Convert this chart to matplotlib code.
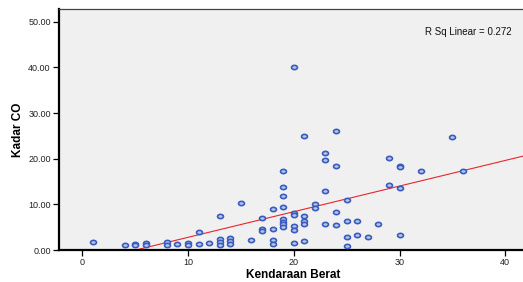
import numpy as np
import matplotlib
matplotlib.use("Agg")
import matplotlib.pyplot as plt
from matplotlib.path import Path

# Data
kendaraan_berat = [1, 4, 5, 5, 6, 6, 8, 8, 9, 10, 10, 11, 11, 12,
                   13, 13, 13, 13, 14, 14, 14, 15, 16,
                   17, 17, 17, 18, 18, 18, 18,
                   19, 19, 19, 19, 19, 19, 19, 19,
                   20, 20, 20, 20, 20, 20,
                   21, 21, 21, 21, 21, 22, 22,
                   23, 23, 23, 23, 24, 24, 24, 24,
                   25, 25, 25, 25, 26, 26, 27, 28,
                   29, 29, 30, 30, 30, 30, 32, 35, 36]
kadar_co = [1.7, 1.1, 1.3, 1.0, 1.5, 1.2, 1.7, 1.1, 1.3, 1.5, 1.2, 3.9, 1.3, 1.5,
            7.4, 2.5, 1.8, 1.1, 2.6, 2.0, 1.4, 10.4, 2.3,
            7.0, 4.7, 4.2, 8.9, 4.7, 2.2, 1.3,
            17.4, 13.7, 11.9, 9.4, 6.9, 6.2, 5.6, 5.0,
            40.2, 8.2, 7.6, 5.3, 4.3, 1.5,
            25.0, 7.5, 6.4, 5.7, 2.0, 10.1, 9.1,
            21.3, 19.8, 13.0, 5.8, 26.0, 18.4, 8.3, 5.4,
            10.9, 6.3, 2.9, 0.9, 6.4, 3.3, 2.9, 5.6,
            20.2, 14.2, 18.5, 18.2, 13.5, 3.3, 17.2, 24.7, 17.2]
r_sq_label = "R Sq Linear = 0.272"
x_ticks = [0, 10, 20, 30, 40]
y_ticks = [0, 10, 20, 30, 40, 50]

plt.rcParams['font.family'] = ['Liberation Sans', 'DejaVu Sans']

fig = plt.figure(figsize=(5.23, 2.82), dpi=100)
ax = fig.add_axes([59/523, 1 - 250/282, (526.4 - 59)/523, (250 - 9)/282])
ax.set_facecolor('#f0f0f0')

# elliptical marker
t = np.linspace(0, 2*np.pi, 40)
ell = Path(np.column_stack([np.cos(t), 0.72*np.sin(t)]), closed=True)

x = np.array(kendaraan_berat, float)
y = np.array(kadar_co, float)
ax.scatter(x, y, marker=ell, s=18, facecolor='#b4c8ea', edgecolor='#3a5bbd',
           linewidths=1.2, zorder=3, clip_on=False)

slope, intercept = np.polyfit(x, y, 1)
xl = np.array([-2.2, 42.0])
ax.plot(xl, slope*xl + intercept, color='#e8262b', lw=0.8, zorder=2)

ax.set_xlim(-2.2, 42.0)
ax.set_ylim(0, 52.8)
ax.set_xticks(x_ticks)
ax.set_xticklabels([str(v) for v in x_ticks])
ax.set_yticks(y_ticks)
ax.set_yticklabels([f"{v:.2f}" for v in y_ticks])
ax.tick_params(axis='both', labelsize=6.5, length=4, width=0.9, color='black',
               labelcolor='#222222', pad=2)

for s in ['left', 'bottom']:
    ax.spines[s].set_linewidth(1.6)
    ax.spines[s].set_color('black')
ax.spines['top'].set_linewidth(0.9)
ax.spines['top'].set_color('#444444')
ax.spines['right'].set_visible(False)

ax.set_xlabel('Kendaraan Berat', fontsize=8.5, fontweight='bold', labelpad=1)
ax.set_ylabel('Kadar CO', fontsize=8.5, fontweight='bold', labelpad=3)

fig.text(512/523, 1 - 32/282, r_sq_label, fontsize=7, ha='right', va='center',
         color='#111111')

fig.savefig('out.png', dpi=100)
